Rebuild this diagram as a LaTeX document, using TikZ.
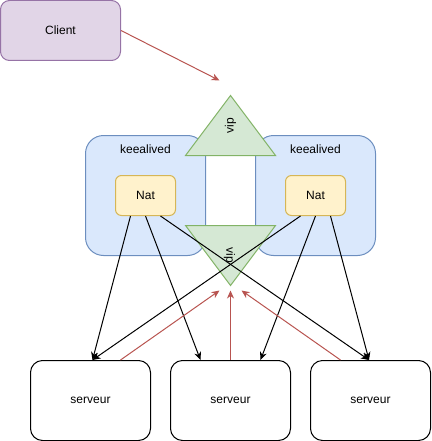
\documentclass[tikz,border=0pt]{standalone}
\usepackage{fontspec}
\setmainfont{Liberation Sans}
\usetikzlibrary{arrows.meta,calc}
\definecolor{clientfill}{HTML}{E1D5E7}
\definecolor{clientdraw}{HTML}{9673A6}
\definecolor{kafill}{HTML}{DAE8FC}
\definecolor{kadraw}{HTML}{6C8EBF}
\definecolor{natfill}{HTML}{FFF2CC}
\definecolor{natdraw}{HTML}{D6B656}
\definecolor{vipfill}{HTML}{D5E8D4}
\definecolor{vipdraw}{HTML}{82B366}
\definecolor{redline}{HTML}{B85450}
\begin{document}
\begin{tikzpicture}[x=1pt,y=-1pt,
  font=\fontsize{12}{14}\selectfont,
  line width=1pt,
  rbox/.style={draw, inner sep=0pt, line width=1pt},
  clientbox/.style={rbox, fill=clientfill, draw=clientdraw, rounded corners=9pt, minimum width=120pt, minimum height=60pt},
  kabox/.style={rbox, fill=kafill, draw=kadraw, rounded corners=18pt, minimum width=120pt, minimum height=120pt},
  natbox/.style={rbox, fill=natfill, draw=natdraw, rounded corners=6pt, minimum width=60pt, minimum height=40pt},
  srvbox/.style={rbox, fill=white, draw=black, rounded corners=12pt, minimum width=120pt, minimum height=80pt},
  viptri/.style={fill=vipfill, draw=vipdraw, line width=1pt},
  txt/.style={inner sep=0pt},
  blk/.style={draw=black, line width=1pt, -{Stealth[length=8pt,width=7pt,inset=2.5pt]}},
  redarr/.style={draw=redline, line width=1pt, -{Stealth[length=8pt,width=7pt,inset=2.5pt]}}
]
\useasboundingbox (0,0) rectangle (431,441);

% nodes
\node[clientbox] (client) at (60.5,30.5) {Client};
\node[kabox] (kaL) at (145.5,195.5) {};
\node[kabox] (kaR) at (315.5,195.5) {};
\node[txt] (kaLlbl) at (145.5,149.5) {keealived};
\node[txt] (kaRlbl) at (315.5,149.5) {keealived};
\node[natbox] (natL) at (145.5,195.5) {Nat};
\node[natbox] (natR) at (315.5,195.5) {Nat};

% vip triangles
\draw[viptri] (230.5,95.5) -- (275.5,155.5) -- (185.5,155.5) -- cycle;
\draw[viptri] (185.5,225.5) -- (275.5,225.5) -- (230.5,285.5) -- cycle;
\node[txt, rotate=90] (vipTop) at (230.5,125.5) {vip};
\node[txt, rotate=-90] (vipBot) at (229.5,255.5) {vip};

\node[srvbox] (srvL) at (90.5,400.5) {serveur};
\node[srvbox] (srvM) at (230.5,400.5) {serveur};
\node[srvbox] (srvR) at (370.5,400.5) {serveur};

\coordinate (clientTip) at (219.5,80.5);
\coordinate (tipL) at (219.5,290.5);
\coordinate (tipM) at (230.5,290.5);
\coordinate (tipR) at (241.5,290.5);

% client arrow
\draw[redarr] (client.east) -- (clientTip);

% black arrows from Nat
\draw[blk] ([xshift=-15pt]natL.south) -- ([xshift=2pt]srvL.north);
\draw[blk] (natL.south) -- ([xshift=-30pt]srvM.north);
\draw[blk] ([xshift=15pt]natL.south) -- ([xshift=-1.5pt]srvR.north);
\draw[blk] ([xshift=-15pt]natR.south) -- ([xshift=2pt]srvL.north);
\draw[blk] (natR.south) -- ([xshift=30pt]srvM.north);
\draw[blk] ([xshift=15pt]natR.south) -- ([xshift=-1.5pt]srvR.north);

% red arrows to vip
\draw[redarr] ([xshift=30pt]srvL.north) -- (tipL);
\draw[redarr] (srvM.north) -- (tipM);
\draw[redarr] ([xshift=-30pt]srvR.north) -- (tipR);
\end{tikzpicture}
\end{document}
